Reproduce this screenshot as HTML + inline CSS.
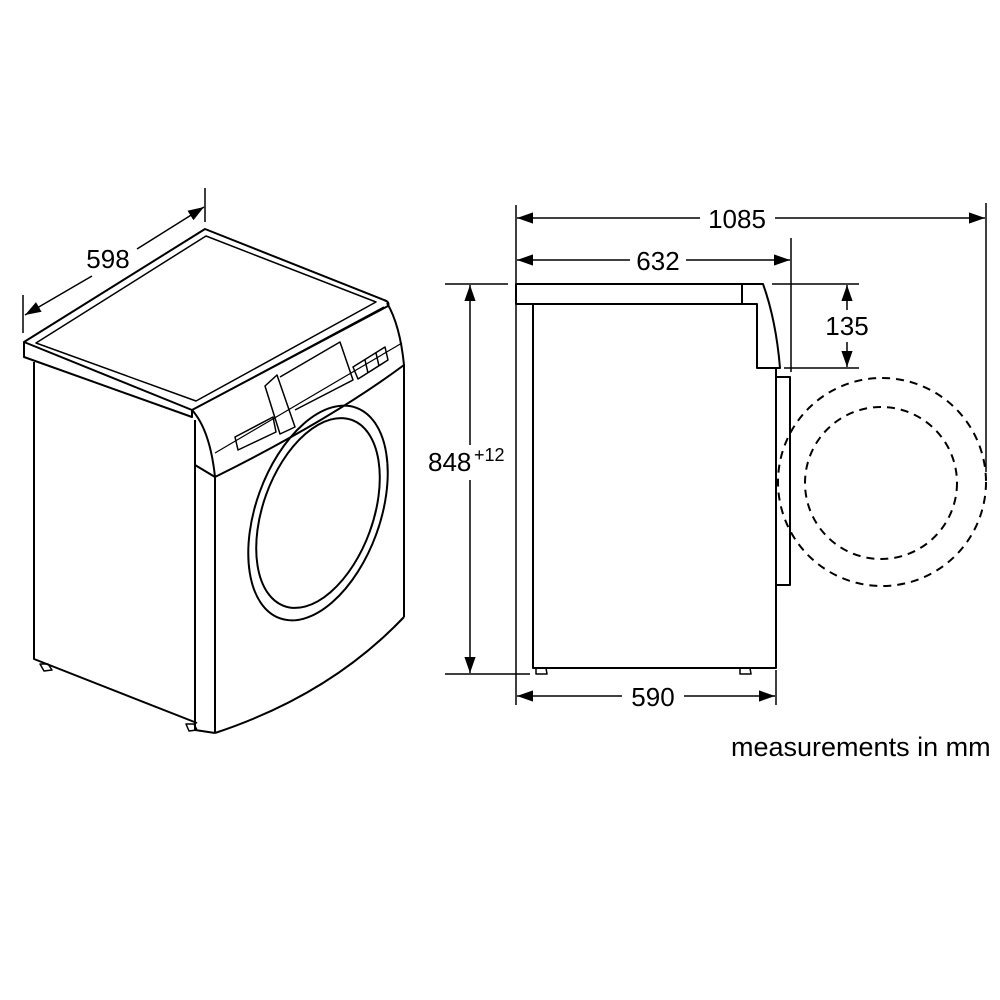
<!DOCTYPE html>
<html><head><meta charset="utf-8"><style>
html,body{margin:0;padding:0;background:#fff;}
svg{display:block;}
text{font-family:"Liberation Sans",Arial,sans-serif;fill:#000;}
</style></head><body>
<svg width="1000" height="1000" viewBox="0 0 1000 1000" xmlns="http://www.w3.org/2000/svg">
<defs>
<marker id="a" viewBox="0 0 10 10" refX="10" refY="5" markerWidth="16" markerHeight="16" markerUnits="userSpaceOnUse" orient="auto-start-reverse"><path d="M0,1.5 L10,5 L0,8.5 z" fill="#000"/></marker>
</defs>
<g fill="none" stroke="#000" stroke-width="2" stroke-linejoin="round">
<path d="M24,342 L205,229 L384,300 Q390,302 388,306 L192,410 Z" fill="#fff"/>
<path d="M36,343 L206,236 L376,302 L196,401 Z" stroke-width="1.5"/>
<path d="M24,342 L24,357 L192,417 L192,410"/>
<path d="M34,362 L34,659 L197,723"/>
<path d="M195,420 L195,730 L215,733"/>
<path d="M215,477 L215,733"/>
<path d="M192,410 Q210,430 215,477"/>
<path d="M195,465 L215,477"/>
<path d="M387,303 Q400,325 404,365 L404,617"/>
<path d="M215,477 Q330,420 404,365"/>
<path d="M215,733 Q330,695 404,617"/>
<path d="M196,408 L384,307" stroke-width="1.5"/>
<path d="M215,453 L402,343" stroke-width="1.2"/>
<path d="M235,437 L273,417 L276,432 L238,450 Z" stroke-width="1.5"/>
<path d="M265,386 L277,375 L295,427 L280,434 Z" stroke-width="1.5"/>
<path d="M280,377 L340,342 L353,380 L295,410" stroke-width="1.5"/>
<path d="M353,367 L385,347 L388,360 L358,379 Z" stroke-width="1.5"/>
<path d="M365,360 L368,373 M376,353 L379,366" stroke-width="1.5"/>
<ellipse cx="318" cy="513" rx="62" ry="112" transform="rotate(20 318 513)"/>
<ellipse cx="318" cy="513" rx="55" ry="99" transform="rotate(20 318 513)"/>
<path d="M40,664 L48,664 L52,670 L44,671 Z" stroke-width="1.5"/>
<path d="M186,724 L194,724 L197,730 L189,731 Z" stroke-width="1.5"/>
<path d="M23,295 L23,333 M205,188 L205,222" stroke-width="1.5"/>
<path d="M92,276 L25,315" stroke-width="1.5" marker-end="url(#a)"/>
<path d="M137,249 L204,207" stroke-width="1.5" marker-end="url(#a)"/>

<path d="M516,284 L763,284 Q776,320 780,368 L757,368 L757,304 L516,304 Z"/>
<path d="M742,284 L742,304"/>
<path d="M533,304 L533,668 L757,668"/>
<path d="M757,368 L776,368 L776,668 L757,668"/>
<path d="M777,377 L790,377 L790,585 L777,585"/>
<path d="M536,668 L546,668 L547,674 L536,674 Z M740,668 L750,668 L751,674 L740,674 Z" stroke-width="1.5"/>
<circle cx="882" cy="482" r="104" stroke-dasharray="8,6"/>
<circle cx="881" cy="483" r="76" stroke-dasharray="8,6"/>
<path d="M516,205 L516,284 M516,304 L516,705 M791,238 L791,372 M986,203 L986,472 M776,670 L776,705" stroke-width="1.5"/>
<path d="M772,284 L859,284 M784,368 L859,368 M445,284 L508,284 M445,674 L530,674" stroke-width="1.5"/>
<path d="M700,218 L517,218" stroke-width="1.5" marker-end="url(#a)"/>
<path d="M775,218 L985,218" stroke-width="1.5" marker-end="url(#a)"/>
<path d="M630,260 L517,260" stroke-width="1.5" marker-end="url(#a)"/>
<path d="M686,260 L790,260" stroke-width="1.5" marker-end="url(#a)"/>
<path d="M847,310 L847,285" stroke-width="1.5" marker-end="url(#a)"/>
<path d="M847,342 L847,367" stroke-width="1.5" marker-end="url(#a)"/>
<path d="M470,445 L470,285" stroke-width="1.5" marker-end="url(#a)"/>
<path d="M470,480 L470,673" stroke-width="1.5" marker-end="url(#a)"/>
<path d="M622,696 L517,696" stroke-width="1.5" marker-end="url(#a)"/>
<path d="M684,696 L775,696" stroke-width="1.5" marker-end="url(#a)"/>
</g>
<text x="108" y="268" font-size="26" text-anchor="middle">598</text>
<text x="737" y="228" font-size="26" text-anchor="middle">1085</text>
<text x="658" y="270" font-size="26" text-anchor="middle">632</text>
<text x="847" y="335" font-size="26" text-anchor="middle">135</text>
<text x="428" y="471" font-size="26">848</text>
<text x="474" y="461" font-size="18">+12</text>
<text x="653" y="706" font-size="26" text-anchor="middle">590</text>
<text x="731" y="756" font-size="27">measurements in mm</text>
</svg>
</body></html>
